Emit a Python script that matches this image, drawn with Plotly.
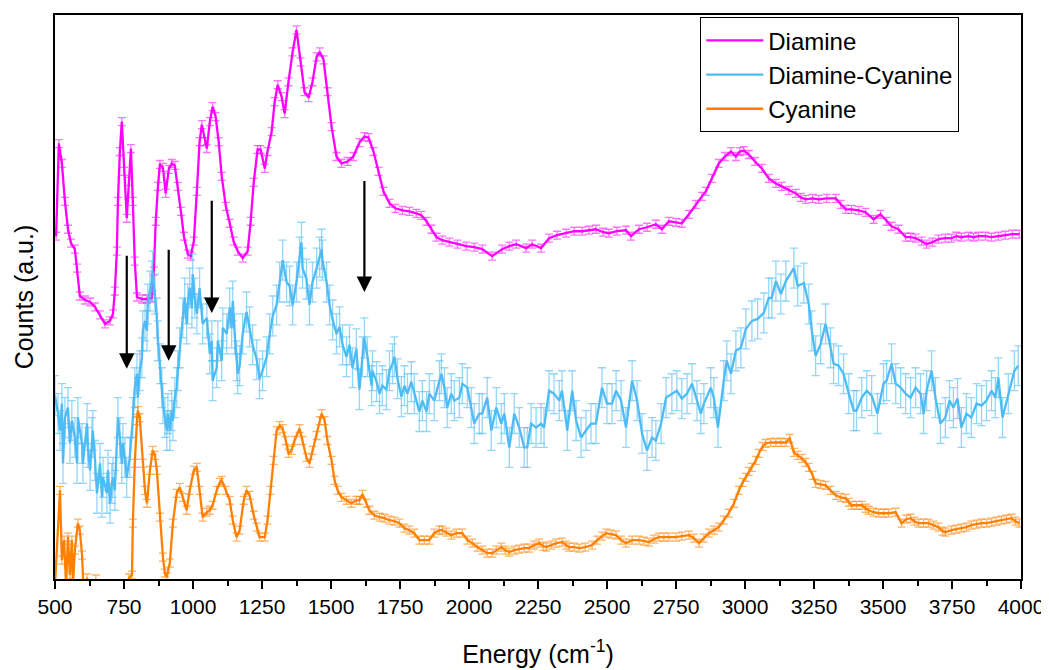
import plotly.graph_objects as go

# ---------------- data (x in cm^-1, y in arbitrary counts) ----------------
diamine_x = [504, 514, 525, 536, 547, 558, 572, 580, 590, 609,
             627, 645, 663, 681, 699, 710, 717, 724, 728, 735,
             742, 750, 760, 768, 775, 782, 789, 797, 815, 833,
             851, 858, 865, 873, 880, 891, 901, 912, 923, 934,
             945, 956, 967, 981, 992, 1003, 1014, 1024, 1032, 1043,
             1050, 1061, 1071, 1082, 1093, 1104, 1119, 1133, 1147, 1162,
             1180, 1198, 1209, 1220, 1234, 1245, 1260, 1270, 1285, 1296,
             1307, 1321, 1332, 1346, 1361, 1375, 1390, 1404, 1419, 1433,
             1448, 1459, 1473, 1487, 1502, 1520, 1538, 1560, 1581, 1603,
             1621, 1636, 1654, 1672, 1690, 1712, 1733, 1759, 1784, 1809,
             1827, 1846, 1864, 1882, 1903, 1929, 1958, 1990, 2019, 2048,
             2084, 2120, 2146, 2171, 2207, 2229, 2261, 2290, 2319, 2352,
             2381, 2410, 2435, 2460, 2486, 2507, 2536, 2569, 2587, 2616,
             2645, 2677, 2699, 2724, 2750, 2771, 2797, 2822, 2844, 2858,
             2880, 2905, 2927, 2949, 2967, 2981, 2996, 3014, 3036, 3061,
             3086, 3112, 3133, 3159, 3184, 3202, 3220, 3245, 3267, 3296,
             3329, 3347, 3365, 3386, 3412, 3437, 3466, 3491, 3513, 3531,
             3556, 3582, 3600, 3618, 3640, 3658, 3679, 3701, 3726, 3748,
             3766, 3784, 3810, 3828, 3846, 3871, 3893, 3918, 3943, 3969,
             3994]
diamine_y = [344, 437, 417, 379, 351, 337, 331, 312, 284, 280,
             278, 273, 265, 256, 259, 266, 289, 329, 379, 429,
             459, 409, 362, 399, 432, 379, 319, 283, 281, 281,
             282, 309, 359, 394, 416, 413, 387, 411, 417, 415,
             394, 369, 344, 326, 324, 339, 389, 439, 456, 439,
             432, 459, 474, 464, 439, 404, 374, 357, 339, 329,
             322, 329, 359, 398, 431, 431, 412, 429, 449, 479,
             496, 484, 467, 499, 529, 551, 519, 489, 483, 499,
             524, 529, 521, 489, 454, 424, 417, 419, 424, 438,
             444, 443, 429, 409, 389, 377, 372, 370, 369, 367,
             365, 359, 351, 343, 340, 338, 336, 334, 333, 331,
             324, 331, 334, 336, 332, 336, 332, 342, 345, 347,
             349, 349, 350, 351, 348, 347, 349, 350, 344, 351,
             353, 356, 351, 359, 358, 357, 366, 376, 384, 389,
             402, 417, 424, 429, 424, 429, 430, 426, 419, 412,
             402, 397, 394, 390, 387, 383, 381, 382, 381, 382,
             382, 376, 371, 371, 370, 368, 361, 366, 359, 354,
             351, 343, 343, 342, 339, 336, 338, 341, 342, 342,
             344, 343, 344, 343, 344, 344, 343, 344, 345, 346,
             346]

mix_x = [500, 511, 518, 525, 529, 536, 547, 554, 561, 572,
         580, 583, 598, 601, 616, 619, 627, 634, 637, 645,
         652, 663, 670, 674, 688, 692, 699, 706, 710, 717,
         728, 735, 742, 746, 753, 760, 771, 782, 789, 797,
         800, 807, 815, 818, 826, 833, 836, 844, 851, 854,
         862, 869, 873, 880, 887, 891, 898, 905, 909, 916,
         923, 927, 934, 941, 945, 952, 963, 970, 977, 981,
         988, 996, 999, 1006, 1014, 1024, 1035, 1050, 1061, 1068,
         1071, 1086, 1090, 1104, 1108, 1122, 1133, 1140, 1144, 1151,
         1158, 1162, 1169, 1180, 1194, 1205, 1216, 1231, 1241, 1252,
         1267, 1278, 1289, 1303, 1314, 1325, 1339, 1350, 1361, 1375,
         1386, 1393, 1397, 1411, 1422, 1433, 1448, 1459, 1466, 1469,
         1484, 1495, 1506, 1520, 1531, 1542, 1556, 1567, 1578, 1592,
         1603, 1614, 1621, 1632, 1647, 1650, 1665, 1676, 1686, 1701,
         1712, 1723, 1730, 1741, 1755, 1766, 1777, 1791, 1802, 1820,
         1831, 1846, 1856, 1874, 1893, 1900, 1911, 1921, 1936, 1947,
         1965, 1976, 1994, 2008, 2019, 2037, 2048, 2066, 2081, 2099,
         2117, 2128, 2146, 2164, 2182, 2200, 2211, 2225, 2243, 2261,
         2272, 2290, 2308, 2327, 2337, 2356, 2374, 2388, 2406, 2424,
         2442, 2460, 2482, 2500, 2518, 2533, 2551, 2569, 2591, 2609,
         2627, 2645, 2663, 2677, 2696, 2714, 2735, 2753, 2771, 2790,
         2808, 2826, 2840, 2851, 2876, 2887, 2902, 2923, 2934, 2949,
         2967, 2985, 3003, 3025, 3046, 3068, 3086, 3097, 3112, 3130,
         3148, 3177, 3191, 3213, 3231, 3242, 3256, 3274, 3292, 3310,
         3321, 3339, 3357, 3376, 3394, 3404, 3423, 3441, 3459, 3480,
         3502, 3513, 3531, 3546, 3564, 3582, 3600, 3618, 3636, 3647,
         3658, 3676, 3690, 3708, 3726, 3741, 3755, 3770, 3784, 3802,
         3820, 3839, 3857, 3875, 3893, 3907, 3918, 3933, 3954, 3976,
         3990]
mix_y = [184, 166, 149, 176, 116, 162, 172, 136, 159, 142,
         116, 162, 136, 116, 156, 132, 109, 142, 149, 119,
         86, 116, 82, 102, 86, 109, 76, 96, 102, 89,
         162, 142, 116, 136, 122, 102, 122, 162, 192, 206,
         182, 209, 222, 249, 259, 249, 276, 289, 299, 309,
         286, 262, 239, 216, 192, 176, 162, 149, 166, 149,
         169, 159, 182, 192, 209, 232, 262, 282, 256, 276,
         292, 272, 306, 282, 266, 292, 256, 262, 226, 239,
         199, 212, 239, 219, 252, 246, 272, 252, 279, 246,
         219, 206, 214, 246, 268, 253, 235, 220, 201, 209,
         223, 246, 264, 275, 298, 320, 298, 294, 275, 298,
         323, 338, 312, 301, 275, 298, 312, 323, 331, 320,
         298, 275, 260, 246, 253, 235, 223, 235, 212, 231,
         190, 223, 242, 223, 194, 209, 198, 186, 194, 190,
         209, 216, 223, 201, 183, 194, 186, 198, 186, 168,
         179, 168, 186, 179, 199, 206, 192, 172, 186, 179,
         182, 196, 192, 172, 156, 166, 166, 182, 149, 172,
         156, 166, 132, 166, 152, 132, 132, 156, 152, 156,
         152, 189, 186, 179, 189, 149, 189, 159, 142, 149,
         156, 156, 192, 176, 176, 189, 179, 152, 199, 179,
         146, 129, 142, 139, 156, 182, 186, 189, 181, 186,
         196, 179, 166, 176, 192, 182, 152, 199, 219, 206,
         229, 232, 251, 259, 261, 267, 282, 282, 299, 286,
         299, 312, 294, 297, 276, 249, 224, 236, 256, 232,
         216, 214, 206, 186, 169, 169, 182, 189, 184, 166,
         196, 199, 216, 196, 192, 186, 182, 192, 186, 166,
         189, 209, 182, 156, 162, 179, 172, 181, 152, 166,
         162, 176, 174, 179, 189, 182, 202, 162, 186, 209,
         214]

cyanine_x = [500, 518, 525, 533, 540, 547, 554, 561, 565, 572,
             583, 590, 598, 605, 616, 634, 648, 663, 684, 706,
             728, 750, 768, 779, 782, 789, 797, 800, 807, 818,
             826, 833, 844, 854, 862, 869, 880, 891, 898, 905,
             916, 927, 941, 952, 963, 977, 988, 1003, 1014, 1024,
             1035, 1050, 1061, 1071, 1086, 1097, 1104, 1119, 1133, 1144,
             1158, 1169, 1184, 1194, 1205, 1220, 1231, 1241, 1260, 1270,
             1281, 1292, 1303, 1314, 1325, 1336, 1346, 1357, 1368, 1386,
             1397, 1411, 1422, 1433, 1448, 1459, 1466, 1477, 1487, 1502,
             1513, 1524, 1538, 1556, 1574, 1592, 1603, 1614, 1629, 1639,
             1657, 1676, 1694, 1712, 1730, 1748, 1766, 1784, 1802, 1820,
             1838, 1856, 1874, 1893, 1903, 1918, 1936, 1954, 1976, 1994,
             2012, 2030, 2048, 2066, 2084, 2099, 2117, 2131, 2146, 2164,
             2182, 2200, 2218, 2236, 2254, 2269, 2280, 2298, 2316, 2337,
             2352, 2363, 2381, 2399, 2421, 2446, 2464, 2482, 2497, 2515,
             2533, 2551, 2569, 2591, 2616, 2634, 2652, 2670, 2688, 2706,
             2724, 2750, 2771, 2797, 2815, 2833, 2851, 2869, 2887, 2905,
             2923, 2941, 2960, 2978, 2992, 3003, 3014, 3025, 3039, 3050,
             3064, 3075, 3093, 3112, 3130, 3148, 3162, 3177, 3191, 3206,
             3220, 3231, 3245, 3256, 3274, 3292, 3310, 3329, 3347, 3365,
             3376, 3386, 3404, 3423, 3437, 3448, 3466, 3484, 3502, 3520,
             3546, 3567, 3585, 3600, 3614, 3629, 3647, 3665, 3683, 3701,
             3716, 3726, 3748, 3766, 3784, 3802, 3820, 3839, 3857, 3875,
             3893, 3911, 3929, 3947, 3965, 3980, 3994]
cyanine_y = [-6, 89, 19, 39, -6, 42, 4, 39, -6, 29,
             56, 49, 24, -21, 1, -16, 0, -21, -36, -21,
             -31, -16, 1, 4, 56, 116, 159, 169, 162, 116,
             89, 76, 109, 129, 124, 109, 62, 22, 6, 2,
             16, 56, 86, 92, 82, 69, 89, 109, 112, 89,
             62, 67, 69, 74, 89, 97, 99, 89, 79, 59,
             42, 49, 79, 89, 84, 64, 52, 42, 42, 59,
             89, 119, 149, 154, 151, 139, 126, 129, 139, 151,
             139, 122, 116, 129, 144, 159, 166, 159, 139, 119,
             99, 89, 82, 79, 76, 79, 79, 85, 76, 69,
             64, 62, 61, 59, 58, 56, 51, 49, 46, 39,
             39, 39, 46, 49, 49, 47, 44, 46, 46, 39,
             36, 32, 29, 26, 26, 29, 32, 29, 27, 29,
             30, 31, 31, 34, 36, 33, 32, 34, 36, 37,
             34, 32, 32, 31, 32, 34, 39, 43, 46, 45,
             44, 39, 36, 39, 39, 38, 37, 40, 42, 42,
             42, 42, 43, 44, 41, 36, 41, 46, 49, 52,
             59, 66, 76, 89, 97, 102, 108, 112, 119, 126,
             133, 136, 137, 137, 137, 137, 141, 127, 124, 121,
             117, 112, 104, 96, 95, 94, 89, 84, 82, 81,
             77, 74, 74, 74, 71, 69, 67, 66, 66, 66,
             67, 56, 60, 61, 58, 56, 56, 56, 54, 52,
             48, 47, 49, 50, 51, 52, 54, 55, 56, 56,
             57, 58, 59, 60, 61, 58, 56]

# error-bar half-heights (counts)
diamine_err = 4
mix_err = 20
cyanine_err = 4

series_names = ["Diamine", "Diamine-Cyanine", "Cyanine"]
series_colors = ["#FF00FF", "#4DBBF5", "#FF8000"]
error_colors = ["rgba(255,0,255,0.55)", "rgba(77,187,245,0.6)", "rgba(255,128,0,0.6)"]

# arrows: x position, tail (top) and tip (bottom) in counts
arrow_x = [760, 912, 1068, 1621]
arrow_tail = [326, 332, 381, 401]
arrow_tip = [211, 219, 267, 288]

x_ticks = list(range(500, 4001, 250))

FONT = "Arial, 'Liberation Sans', sans-serif"

fig = go.Figure()
data = [(diamine_x, diamine_y, diamine_err),
        (mix_x, mix_y, mix_err),
        (cyanine_x, cyanine_y, cyanine_err)]
for (xs, ys, err), name, col, ecol in zip(data, series_names, series_colors, error_colors):
    fig.add_trace(go.Scatter(
        x=xs, y=ys, name=name, mode="lines",
        line=dict(color=col, width=2.3),
        error_y=dict(type="constant", value=err, color=ecol, thickness=1.3, width=4),
    ))

for ax_, t0, t1 in zip(arrow_x, arrow_tail, arrow_tip):
    fig.add_annotation(x=ax_, y=t1, ax=ax_, ay=t0, xref="x", yref="y",
                       axref="x", ayref="y", text="", showarrow=True,
                       arrowhead=2, arrowsize=1.4, arrowwidth=2.2, arrowcolor="black")

# the page body adds an 8 px margin, so the figure is sized to fit inside it
fig.update_layout(
    width=1041, height=662,
    margin=dict(l=47, r=27, t=5, b=91),
    paper_bgcolor="white", plot_bgcolor="white",
    font=dict(family=FONT, color="black"),
    showlegend=True,
    legend=dict(x=0.668, y=0.996, xanchor="left", yanchor="top",
                bordercolor="black", borderwidth=1, bgcolor="white",
                font=dict(size=24, family=FONT), tracegroupgap=0,
                itemwidth=57),
    xaxis=dict(range=[500, 4000], tickvals=x_ticks, ticks="outside",
               ticklen=8, tickwidth=2, tickcolor="black",
               showline=True, linewidth=2, linecolor="black", mirror=True,
               showgrid=False, zeroline=False,
               tickfont=dict(size=21, family=FONT),
               minor=dict(ticks="outside", ticklen=5, tickwidth=2, dtick=125,
                          tick0=500, tickcolor="black", showgrid=False),
               title=dict(text="Energy (cm<sup>-1</sup>)", font=dict(size=25, family=FONT),
                          standoff=28)),
    yaxis=dict(range=[0, 566], showticklabels=False, ticks="",
               showline=True, linewidth=2, linecolor="black", mirror=True,
               showgrid=False, zeroline=False,
               title=dict(text="Counts (a.u.)", font=dict(size=25, family=FONT),
                          standoff=12)),
)

fig.write_html("out.html")
